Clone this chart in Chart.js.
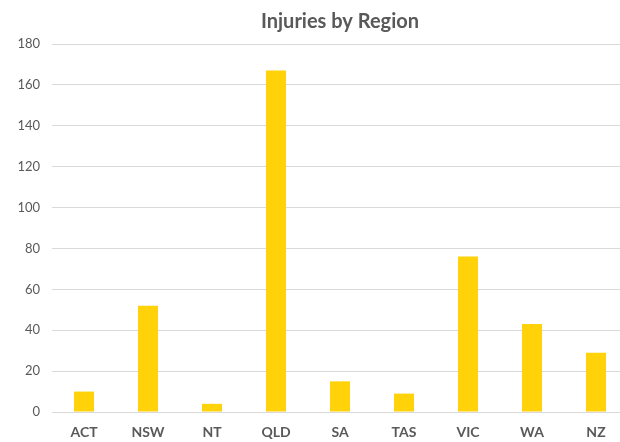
<!DOCTYPE html>
<html>
<head>
<meta charset="utf-8">
<script src="https://cdn.jsdelivr.net/npm/chart.js@4"></script>
<style>
    html, body { margin: 0; padding: 0; background: #fff; }
    /* the original plot runs a few pixels past the right edge, so the canvas is a bit wider and clipped */
    #frame { width: 620px; height: 442px; overflow: hidden; }
    #wrap { width: 628px; height: 442px; }
</style>
</head>
<body>
<div id="frame"><div id="wrap"><canvas id="injuryChart"></canvas></div></div>
<script>
const regions = ['ACT', 'NSW', 'NT', 'QLD', 'SA', 'TAS', 'VIC', 'WA', 'NZ'];
const injuries = [10, 52, 4, 167, 15, 9, 76, 43, 29];
const yMax = 180;
const yStep = 20;

const textGrey = '#595959';
const fontName = "'Lato', 'DejaVu Sans', sans-serif";

const ctx = document.getElementById('injuryChart').getContext('2d');

new Chart(ctx, {
    type: 'bar',
    data: {
        labels: regions,
        datasets: [{
            label: 'Injuries',
            data: injuries,
            backgroundColor: '#FFD20A',
            borderWidth: 0,
            barPercentage: 0.3125,
            categoryPercentage: 1.0
        }]
    },
    options: {
        responsive: true,
        maintainAspectRatio: false,
        animation: false,
        layout: {
            padding: { top: 8, right: 0, bottom: 0, left: 8 }
        },
        plugins: {
            legend: { display: false },
            tooltip: { enabled: false },
            title: {
                display: true,
                fullSize: false,
                text: 'Injuries by Region',
                color: textGrey,
                font: { family: fontName, size: 20, weight: 'bold' },
                padding: { top: 2, bottom: 10 }
            }
        },
        scales: {
            x: {
                grid: { display: false, drawTicks: false },
                border: { color: '#d9d9d9', width: 1 },
                ticks: {
                    color: textGrey,
                    font: { family: fontName, size: 14, weight: 'bold' },
                    padding: 12
                },
                afterFit: function(scale) {
                    scale.height = 30;
                }
            },
            y: {
                min: 0,
                max: yMax,
                grid: { color: '#d9d9d9', drawTicks: false },
                border: { display: false },
                ticks: {
                    stepSize: yStep,
                    color: textGrey,
                    font: { family: fontName, size: 13 },
                    padding: 12
                },
                afterFit: function(scale) {
                    scale.width = 44;
                }
            }
        }
    }
});
</script>
</body>
</html>
